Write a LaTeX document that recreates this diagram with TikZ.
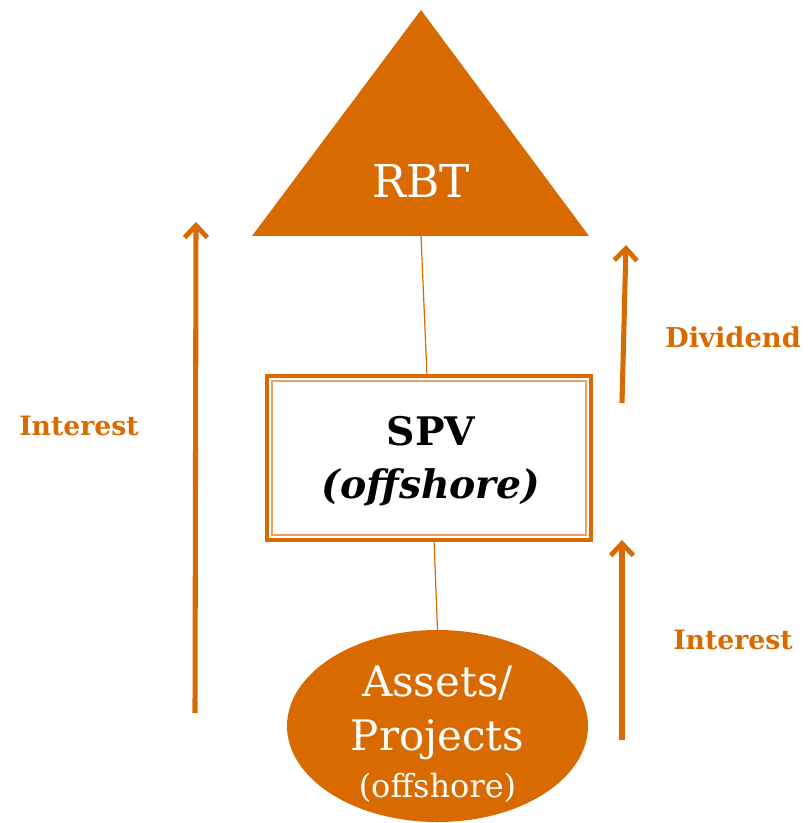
\documentclass[tikz,border=0pt]{standalone}
\usepackage{fontspec}
\setmainfont{DejaVu Serif}
\usetikzlibrary{arrows.meta,shapes.geometric}
\definecolor{org}{RGB}{217,106,0}
\definecolor{orgl}{RGB}{236,160,100}
\tikzset{
  flow/.style={draw=org, line width=3.8pt, -{Straight Barb[length=9pt,width=17pt,line width=3.6pt]}},
  link/.style={draw=org, line width=0.9pt},
  lbl/.style={text=org, font=\bfseries\fontsize{20}{24}\selectfont, inner sep=0pt},
}
\begin{document}
\begin{tikzpicture}[x=0.75pt,y=-0.75pt]
\useasboundingbox (0,0) rectangle (809,823);
% triangle
\fill[org] (421,10) -- (589,236) -- (252,236) -- cycle;
\coordinate (tribase) at (421,236);
\node[text=white, font=\fontsize{34}{40}\selectfont, inner sep=0pt] (rbt) at (421,181) {RBT};
% SPV box
\draw[org, line width=2.4pt, fill=white] (267,376) rectangle (591,540);
\draw[orgl, line width=0.8pt] (272,381) rectangle (586,535);
\node[draw=none, minimum width=324*0.75pt, minimum height=164*0.75pt, inner sep=0pt] (spv) at (429,458) {};
\node[align=center, font=\bfseries\fontsize{29.5}{40}\selectfont, inner sep=0pt] (spvt) at (431,461) {SPV\\\textit{(offshore)}};
% ellipse
\node[ellipse, fill=org, minimum width=301*0.75pt, minimum height=192*0.75pt, inner sep=0pt] (ast) at (437.5,726) {};
\node[text=white, align=center, inner sep=0pt, font=\fontsize{31.5}{41}\selectfont] (astt) at (437.5,713) {Assets/\\Projects};
\node[text=white, inner sep=0pt, font=\fontsize{24}{28}\selectfont] (offs) at (437.5,788) {(offshore)};
% connectors
\draw[link] (tribase) -- (spv.north -| 427,0);
\draw[link] (434,540) -- (ast.north);
% arrows
\coordinate (la0) at (195,713);
\coordinate (la1) at (196,222);
\draw[flow] (la0) -- (la1);
\coordinate (ra0) at (622,403);
\coordinate (ra1) at (626,245);
\draw[flow] (ra0) -- (ra1);
\coordinate (rb0) at (622,740);
\coordinate (rb1) at (622,540);
\draw[flow] (rb0) -- (rb1);
% labels
\node[lbl] (li) at (79,426) {Interest};
\node[lbl, font=\bfseries\fontsize{20.5}{24}\selectfont] (dv) at (733,337) {Dividend};
\node[lbl] (ri) at (733,640) {Interest};
\end{tikzpicture}
\end{document}
